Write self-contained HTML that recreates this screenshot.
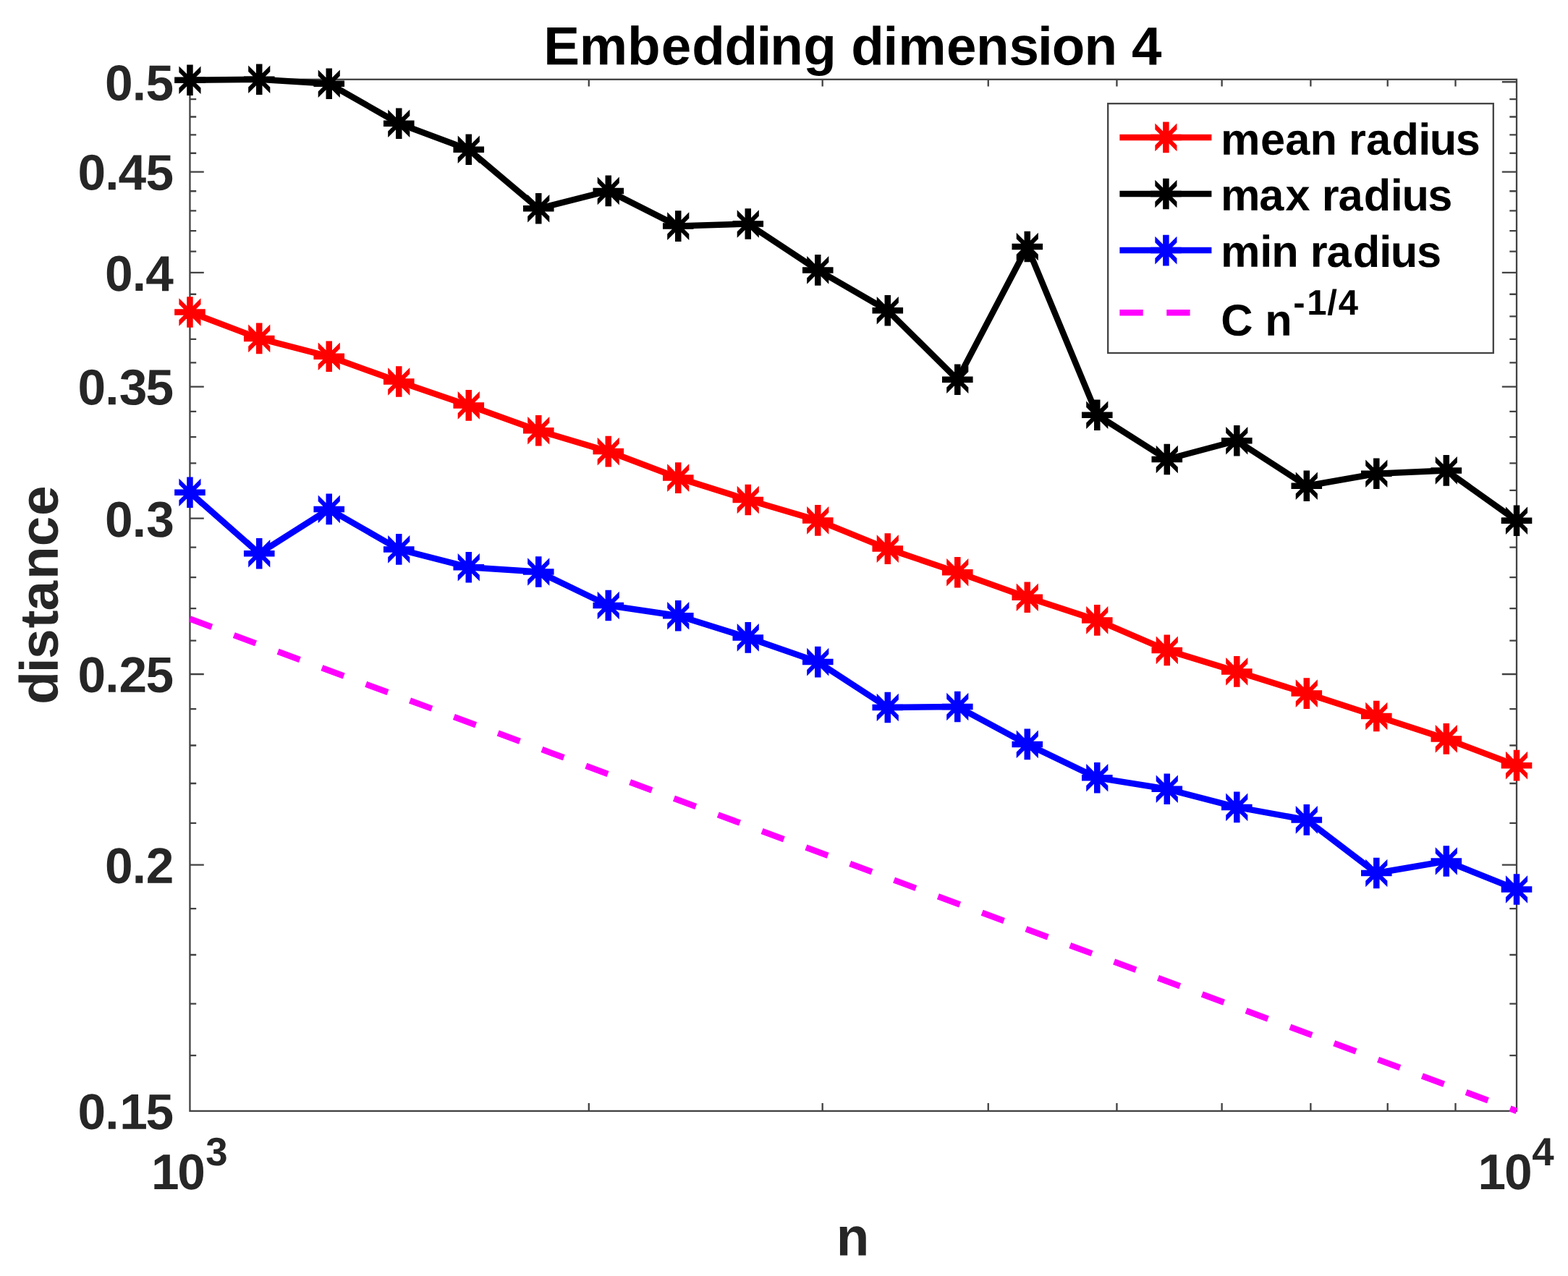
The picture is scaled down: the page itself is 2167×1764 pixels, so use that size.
<!DOCTYPE html>
<html lang="en">
<head>
<meta charset="utf-8">
<title>Embedding dimension 4</title>
<style>
html,body{margin:0;padding:0;background:#fff}
body{width:2167px;height:1764px;overflow:hidden}
svg{display:block}
text{font-family:"Liberation Sans", sans-serif;font-weight:700;white-space:pre;text-rendering:geometricPrecision}
</style>
</head>
<body>
<svg width="2167" height="1764" viewBox="0 0 2167 1764">
<rect width="2167" height="1764" fill="#fff"/>
<g stroke="#424242" stroke-width="2.3" fill="none">
<rect x="262.45" y="109.8" width="1833.55" height="1426.1"/>
<path d="M813.8 1535.9V1524.9M813.8 109.8V119.6M1136.68 1535.9V1524.9M1136.68 109.8V119.6M1365.76 1535.9V1524.9M1365.76 109.8V119.6M1543.45 1535.9V1524.9M1543.45 109.8V119.6M1688.63 1535.9V1524.9M1688.63 109.8V119.6M1811.38 1535.9V1524.9M1811.38 109.8V119.6M1917.71 1535.9V1524.9M1917.71 109.8V119.6M2011.5 1535.9V1524.9M2011.5 109.8V119.6M262.45 1459.14H271.2M2096 1459.14H2086.3M262.45 1387.53H271.2M2096 1387.53H2086.3M262.45 1320.01H271.2M2096 1320.01H2086.3M262.45 1256.15H271.2M2096 1256.15H2086.3M262.45 1195.57H281.8M2096 1195.57H2075.8M262.45 1137.94H271.2M2096 1137.94H2086.3M262.45 1082.99H271.2M2096 1082.99H2086.3M262.45 1030.48H271.2M2096 1030.48H2086.3M262.45 980.21H271.2M2096 980.21H2086.3M262.45 931.99H281.8M2096 931.99H2075.8M262.45 885.67H271.2M2096 885.67H2086.3M262.45 841.09H271.2M2096 841.09H2086.3M262.45 798.13H271.2M2096 798.13H2086.3M262.45 756.69H271.2M2096 756.69H2086.3M262.45 716.64H281.8M2096 716.64H2075.8M262.45 677.91H271.2M2096 677.91H2086.3M262.45 640.41H271.2M2096 640.41H2086.3M262.45 604.06H271.2M2096 604.06H2086.3M262.45 568.8H271.2M2096 568.8H2086.3M262.45 534.56H281.8M2096 534.56H2075.8M262.45 501.29H271.2M2096 501.29H2086.3M262.45 468.93H271.2M2096 468.93H2086.3M262.45 437.43H271.2M2096 437.43H2086.3M262.45 406.75H271.2M2096 406.75H2086.3M262.45 376.84H281.8M2096 376.84H2075.8M262.45 347.67H271.2M2096 347.67H2086.3M262.45 319.21H271.2M2096 319.21H2086.3M262.45 291.42H271.2M2096 291.42H2086.3M262.45 264.26H271.2M2096 264.26H2086.3M262.45 237.72H281.8M2096 237.72H2075.8M262.45 211.76H271.2M2096 211.76H2086.3M262.45 186.36H271.2M2096 186.36H2086.3M262.45 161.49H271.2M2096 161.49H2086.3M262.45 137.13H271.2M2096 137.13H2086.3M262.45 113.27H281.8M2096 113.27H2075.8"/>
</g>
<g fill="#262626" font-size="69.4" text-anchor="end">
<text transform="translate(240.1 1560.9) rotate(0.03)" dx="0 -1 0.9 -2.4">0.15</text>
<text transform="translate(240.45 1220.75) rotate(0.03)" dx="0 -0.95 -0.05">0.2</text>
<text transform="translate(240.1 956.82) rotate(0.03)" dx="0 -1 0.04 -1.54">0.25</text>
<text transform="translate(240.71 742) rotate(0.03)" dx="0 -0.95 0.21">0.3</text>
<text transform="translate(240.1 559.35) rotate(0.03)" dx="0 -1 0.3 -1.8">0.35</text>
<text transform="translate(239.91 402.15) rotate(0.03)" dx="0 -0.95 -0.59">0.4</text>
<text transform="translate(240.1 262.4) rotate(0.03)" dx="0 -1 -0.8 -0.7">0.45</text>
<text transform="translate(240.1 138.53) rotate(0.03)" dx="0 -0.95 -0.4">0.5</text>
</g>
<g fill="#262626" font-size="69.4">
<text transform="translate(208 1643.9) rotate(0.03)" dx="0.9 -2.3">10<tspan font-size="54.7" dy="-33" dx="0.55">3</tspan></text>
<text transform="translate(2041.5 1643.9) rotate(0.03)" dx="1 -2.2">10<tspan font-size="54.7" dy="-33" dx="-0.2">4</tspan></text>
</g>
<text transform="translate(1180.5 89.4) rotate(0.03)" x="-431.03" font-size="74.6" fill="#000" dx="1.8 -0.2 -0.2 1.1 1.2 -0.5 -1.6 -2 0.4 0 -0.3 -1.1 0 0.3 -0.5 0 -2 -1 -0.8 0 -0.85">Embedding dimension 4</text>
<text transform="translate(1178.6 1735.4) rotate(0.03)" font-size="74.6" text-anchor="middle" fill="#262626">n</text>
<text transform="translate(79.7 822) rotate(-89.97)" x="-151.32" font-size="74.6" fill="#262626" dx="-0.5 -2.1 -1.3 0.9 -0.8 2 0.2 0.6">distance</text>
<line x1="262.45" y1="855.56" x2="2096" y2="1535.9" stroke="#f0f" stroke-width="8.5" stroke-dasharray="32.3 32.57"/>
<polyline points="262.45,680.8 358.25,765.2 454.76,703.9 551.26,759.4 647.76,784.2 744.26,790.45 840.77,837 937.27,851.2 1033.77,881.4 1130.27,915.1 1226.78,978 1323.28,977 1419.78,1028.9 1516.28,1075.3 1612.79,1090.8 1709.29,1115.9 1805.79,1133.4 1902.29,1207 1998.8,1190.5 2096,1229.5" fill="none" stroke="#00f" stroke-width="8.5" stroke-linejoin="round"/>
<path d="M241.15 676.55h42.6v8.5h-42.6zM258.2 659.5h8.5v42.6h-8.5zM247.39 661.49L277.51 691.61L277.51 700.11L247.39 669.99zM247.39 691.61L277.51 661.49L277.51 669.99L247.39 700.11zM336.95 760.95h42.6v8.5h-42.6zM354 743.9h8.5v42.6h-8.5zM343.19 745.89L373.31 776.01L373.31 784.51L343.19 754.39zM343.19 776.01L373.31 745.89L373.31 754.39L343.19 784.51zM433.46 699.65h42.6v8.5h-42.6zM450.51 682.6h8.5v42.6h-8.5zM439.69 684.59L469.82 714.71L469.82 723.21L439.69 693.09zM439.69 714.71L469.82 684.59L469.82 693.09L439.69 723.21zM529.96 755.15h42.6v8.5h-42.6zM547.01 738.1h8.5v42.6h-8.5zM536.2 740.09L566.32 770.21L566.32 778.71L536.2 748.59zM536.2 770.21L566.32 740.09L566.32 748.59L536.2 778.71zM626.46 779.95h42.6v8.5h-42.6zM643.51 762.9h8.5v42.6h-8.5zM632.7 764.89L662.82 795.01L662.82 803.51L632.7 773.39zM632.7 795.01L662.82 764.89L662.82 773.39L632.7 803.51zM722.96 786.2h42.6v8.5h-42.6zM740.01 769.15h8.5v42.6h-8.5zM729.2 771.14L759.32 801.26L759.32 809.76L729.2 779.64zM729.2 801.26L759.32 771.14L759.32 779.64L729.2 809.76zM819.47 832.75h42.6v8.5h-42.6zM836.52 815.7h8.5v42.6h-8.5zM825.7 817.69L855.83 847.81L855.83 856.31L825.7 826.19zM825.7 847.81L855.83 817.69L855.83 826.19L825.7 856.31zM915.97 846.95h42.6v8.5h-42.6zM933.02 829.9h8.5v42.6h-8.5zM922.21 831.89L952.33 862.01L952.33 870.51L922.21 840.39zM922.21 862.01L952.33 831.89L952.33 840.39L922.21 870.51zM1012.47 877.15h42.6v8.5h-42.6zM1029.52 860.1h8.5v42.6h-8.5zM1018.71 862.09L1048.83 892.21L1048.83 900.71L1018.71 870.59zM1018.71 892.21L1048.83 862.09L1048.83 870.59L1018.71 900.71zM1108.97 910.85h42.6v8.5h-42.6zM1126.02 893.8h8.5v42.6h-8.5zM1115.21 895.79L1145.34 925.91L1145.34 934.41L1115.21 904.29zM1115.21 925.91L1145.34 895.79L1145.34 904.29L1115.21 934.41zM1205.48 973.75h42.6v8.5h-42.6zM1222.53 956.7h8.5v42.6h-8.5zM1211.71 958.69L1241.84 988.81L1241.84 997.31L1211.71 967.19zM1211.71 988.81L1241.84 958.69L1241.84 967.19L1211.71 997.31zM1301.98 972.75h42.6v8.5h-42.6zM1319.03 955.7h8.5v42.6h-8.5zM1308.22 957.69L1338.34 987.81L1338.34 996.31L1308.22 966.19zM1308.22 987.81L1338.34 957.69L1338.34 966.19L1308.22 996.31zM1398.48 1024.65h42.6v8.5h-42.6zM1415.53 1007.6h8.5v42.6h-8.5zM1404.72 1009.59L1434.84 1039.71L1434.84 1048.21L1404.72 1018.09zM1404.72 1039.71L1434.84 1009.59L1434.84 1018.09L1404.72 1048.21zM1494.98 1071.05h42.6v8.5h-42.6zM1512.03 1054h8.5v42.6h-8.5zM1501.22 1055.99L1531.35 1086.11L1531.35 1094.61L1501.22 1064.49zM1501.22 1086.11L1531.35 1055.99L1531.35 1064.49L1501.22 1094.61zM1591.49 1086.55h42.6v8.5h-42.6zM1608.54 1069.5h8.5v42.6h-8.5zM1597.73 1071.49L1627.85 1101.61L1627.85 1110.11L1597.73 1079.99zM1597.73 1101.61L1627.85 1071.49L1627.85 1079.99L1597.73 1110.11zM1687.99 1111.65h42.6v8.5h-42.6zM1705.04 1094.6h8.5v42.6h-8.5zM1694.23 1096.59L1724.35 1126.71L1724.35 1135.21L1694.23 1105.09zM1694.23 1126.71L1724.35 1096.59L1724.35 1105.09L1694.23 1135.21zM1784.49 1129.15h42.6v8.5h-42.6zM1801.54 1112.1h8.5v42.6h-8.5zM1790.73 1114.09L1820.85 1144.21L1820.85 1152.71L1790.73 1122.59zM1790.73 1144.21L1820.85 1114.09L1820.85 1122.59L1790.73 1152.71zM1880.99 1202.75h42.6v8.5h-42.6zM1898.04 1185.7h8.5v42.6h-8.5zM1887.23 1187.69L1917.36 1217.81L1917.36 1226.31L1887.23 1196.19zM1887.23 1217.81L1917.36 1187.69L1917.36 1196.19L1887.23 1226.31zM1977.5 1186.25h42.6v8.5h-42.6zM1994.55 1169.2h8.5v42.6h-8.5zM1983.74 1171.19L2013.86 1201.31L2013.86 1209.81L1983.74 1179.69zM1983.74 1201.31L2013.86 1171.19L2013.86 1179.69L1983.74 1209.81zM2074.7 1225.25h42.6v8.5h-42.6zM2091.75 1208.2h8.5v42.6h-8.5zM2080.94 1210.19L2111.06 1240.31L2111.06 1248.81L2080.94 1218.69zM2080.94 1240.31L2111.06 1210.19L2111.06 1218.69L2080.94 1248.81z" fill="#00f"/>
<polyline points="262.45,110.7 358.25,109.7 454.76,115.75 551.26,170.7 647.76,206.7 744.26,288.3 840.77,263.9 937.27,312.6 1033.77,309.5 1130.27,373.4 1226.78,429.3 1323.28,524.8 1419.78,341.05 1516.28,573.7 1612.79,635 1709.29,609.25 1805.79,671.7 1902.29,654.7 1998.8,650.4 2096,719.8" fill="none" stroke="#000" stroke-width="8.5" stroke-linejoin="round"/>
<path d="M241.15 106.45h42.6v8.5h-42.6zM258.2 89.4h8.5v42.6h-8.5zM247.39 91.39L277.51 121.51L277.51 130.01L247.39 99.89zM247.39 121.51L277.51 91.39L277.51 99.89L247.39 130.01zM336.95 105.45h42.6v8.5h-42.6zM354 88.4h8.5v42.6h-8.5zM343.19 90.39L373.31 120.51L373.31 129.01L343.19 98.89zM343.19 120.51L373.31 90.39L373.31 98.89L343.19 129.01zM433.46 111.5h42.6v8.5h-42.6zM450.51 94.45h8.5v42.6h-8.5zM439.69 96.44L469.82 126.56L469.82 135.06L439.69 104.94zM439.69 126.56L469.82 96.44L469.82 104.94L439.69 135.06zM529.96 166.45h42.6v8.5h-42.6zM547.01 149.4h8.5v42.6h-8.5zM536.2 151.39L566.32 181.51L566.32 190.01L536.2 159.89zM536.2 181.51L566.32 151.39L566.32 159.89L536.2 190.01zM626.46 202.45h42.6v8.5h-42.6zM643.51 185.4h8.5v42.6h-8.5zM632.7 187.39L662.82 217.51L662.82 226.01L632.7 195.89zM632.7 217.51L662.82 187.39L662.82 195.89L632.7 226.01zM722.96 284.05h42.6v8.5h-42.6zM740.01 267h8.5v42.6h-8.5zM729.2 268.99L759.32 299.11L759.32 307.61L729.2 277.49zM729.2 299.11L759.32 268.99L759.32 277.49L729.2 307.61zM819.47 259.65h42.6v8.5h-42.6zM836.52 242.6h8.5v42.6h-8.5zM825.7 244.59L855.83 274.71L855.83 283.21L825.7 253.09zM825.7 274.71L855.83 244.59L855.83 253.09L825.7 283.21zM915.97 308.35h42.6v8.5h-42.6zM933.02 291.3h8.5v42.6h-8.5zM922.21 293.29L952.33 323.41L952.33 331.91L922.21 301.79zM922.21 323.41L952.33 293.29L952.33 301.79L922.21 331.91zM1012.47 305.25h42.6v8.5h-42.6zM1029.52 288.2h8.5v42.6h-8.5zM1018.71 290.19L1048.83 320.31L1048.83 328.81L1018.71 298.69zM1018.71 320.31L1048.83 290.19L1048.83 298.69L1018.71 328.81zM1108.97 369.15h42.6v8.5h-42.6zM1126.02 352.1h8.5v42.6h-8.5zM1115.21 354.09L1145.34 384.21L1145.34 392.71L1115.21 362.59zM1115.21 384.21L1145.34 354.09L1145.34 362.59L1115.21 392.71zM1205.48 425.05h42.6v8.5h-42.6zM1222.53 408h8.5v42.6h-8.5zM1211.71 409.99L1241.84 440.11L1241.84 448.61L1211.71 418.49zM1211.71 440.11L1241.84 409.99L1241.84 418.49L1211.71 448.61zM1301.98 520.55h42.6v8.5h-42.6zM1319.03 503.5h8.5v42.6h-8.5zM1308.22 505.49L1338.34 535.61L1338.34 544.11L1308.22 513.99zM1308.22 535.61L1338.34 505.49L1338.34 513.99L1308.22 544.11zM1398.48 336.8h42.6v8.5h-42.6zM1415.53 319.75h8.5v42.6h-8.5zM1404.72 321.74L1434.84 351.86L1434.84 360.36L1404.72 330.24zM1404.72 351.86L1434.84 321.74L1434.84 330.24L1404.72 360.36zM1494.98 569.45h42.6v8.5h-42.6zM1512.03 552.4h8.5v42.6h-8.5zM1501.22 554.39L1531.35 584.51L1531.35 593.01L1501.22 562.89zM1501.22 584.51L1531.35 554.39L1531.35 562.89L1501.22 593.01zM1591.49 630.75h42.6v8.5h-42.6zM1608.54 613.7h8.5v42.6h-8.5zM1597.73 615.69L1627.85 645.81L1627.85 654.31L1597.73 624.19zM1597.73 645.81L1627.85 615.69L1627.85 624.19L1597.73 654.31zM1687.99 605h42.6v8.5h-42.6zM1705.04 587.95h8.5v42.6h-8.5zM1694.23 589.94L1724.35 620.06L1724.35 628.56L1694.23 598.44zM1694.23 620.06L1724.35 589.94L1724.35 598.44L1694.23 628.56zM1784.49 667.45h42.6v8.5h-42.6zM1801.54 650.4h8.5v42.6h-8.5zM1790.73 652.39L1820.85 682.51L1820.85 691.01L1790.73 660.89zM1790.73 682.51L1820.85 652.39L1820.85 660.89L1790.73 691.01zM1880.99 650.45h42.6v8.5h-42.6zM1898.04 633.4h8.5v42.6h-8.5zM1887.23 635.39L1917.36 665.51L1917.36 674.01L1887.23 643.89zM1887.23 665.51L1917.36 635.39L1917.36 643.89L1887.23 674.01zM1977.5 646.15h42.6v8.5h-42.6zM1994.55 629.1h8.5v42.6h-8.5zM1983.74 631.09L2013.86 661.21L2013.86 669.71L1983.74 639.59zM1983.74 661.21L2013.86 631.09L2013.86 639.59L1983.74 669.71zM2074.7 715.55h42.6v8.5h-42.6zM2091.75 698.5h8.5v42.6h-8.5zM2080.94 700.49L2111.06 730.61L2111.06 739.11L2080.94 708.99zM2080.94 730.61L2111.06 700.49L2111.06 708.99L2080.94 739.11z" fill="#000"/>
<polyline points="262.45,431.5 358.25,467.9 454.76,492.8 551.26,527.5 647.76,560.4 744.26,595.3 840.77,624.1 937.27,660.6 1033.77,691 1130.27,719.4 1226.78,758.6 1323.28,791.2 1419.78,825.7 1516.28,857.4 1612.79,898.9 1709.29,928.4 1805.79,958.6 1902.29,990 1998.8,1021.4 2096,1058.15" fill="none" stroke="#f00" stroke-width="8.5" stroke-linejoin="round"/>
<path d="M241.15 427.25h42.6v8.5h-42.6zM258.2 410.2h8.5v42.6h-8.5zM247.39 412.19L277.51 442.31L277.51 450.81L247.39 420.69zM247.39 442.31L277.51 412.19L277.51 420.69L247.39 450.81zM336.95 463.65h42.6v8.5h-42.6zM354 446.6h8.5v42.6h-8.5zM343.19 448.59L373.31 478.71L373.31 487.21L343.19 457.09zM343.19 478.71L373.31 448.59L373.31 457.09L343.19 487.21zM433.46 488.55h42.6v8.5h-42.6zM450.51 471.5h8.5v42.6h-8.5zM439.69 473.49L469.82 503.61L469.82 512.11L439.69 481.99zM439.69 503.61L469.82 473.49L469.82 481.99L439.69 512.11zM529.96 523.25h42.6v8.5h-42.6zM547.01 506.2h8.5v42.6h-8.5zM536.2 508.19L566.32 538.31L566.32 546.81L536.2 516.69zM536.2 538.31L566.32 508.19L566.32 516.69L536.2 546.81zM626.46 556.15h42.6v8.5h-42.6zM643.51 539.1h8.5v42.6h-8.5zM632.7 541.09L662.82 571.21L662.82 579.71L632.7 549.59zM632.7 571.21L662.82 541.09L662.82 549.59L632.7 579.71zM722.96 591.05h42.6v8.5h-42.6zM740.01 574h8.5v42.6h-8.5zM729.2 575.99L759.32 606.11L759.32 614.61L729.2 584.49zM729.2 606.11L759.32 575.99L759.32 584.49L729.2 614.61zM819.47 619.85h42.6v8.5h-42.6zM836.52 602.8h8.5v42.6h-8.5zM825.7 604.79L855.83 634.91L855.83 643.41L825.7 613.29zM825.7 634.91L855.83 604.79L855.83 613.29L825.7 643.41zM915.97 656.35h42.6v8.5h-42.6zM933.02 639.3h8.5v42.6h-8.5zM922.21 641.29L952.33 671.41L952.33 679.91L922.21 649.79zM922.21 671.41L952.33 641.29L952.33 649.79L922.21 679.91zM1012.47 686.75h42.6v8.5h-42.6zM1029.52 669.7h8.5v42.6h-8.5zM1018.71 671.69L1048.83 701.81L1048.83 710.31L1018.71 680.19zM1018.71 701.81L1048.83 671.69L1048.83 680.19L1018.71 710.31zM1108.97 715.15h42.6v8.5h-42.6zM1126.02 698.1h8.5v42.6h-8.5zM1115.21 700.09L1145.34 730.21L1145.34 738.71L1115.21 708.59zM1115.21 730.21L1145.34 700.09L1145.34 708.59L1115.21 738.71zM1205.48 754.35h42.6v8.5h-42.6zM1222.53 737.3h8.5v42.6h-8.5zM1211.71 739.29L1241.84 769.41L1241.84 777.91L1211.71 747.79zM1211.71 769.41L1241.84 739.29L1241.84 747.79L1211.71 777.91zM1301.98 786.95h42.6v8.5h-42.6zM1319.03 769.9h8.5v42.6h-8.5zM1308.22 771.89L1338.34 802.01L1338.34 810.51L1308.22 780.39zM1308.22 802.01L1338.34 771.89L1338.34 780.39L1308.22 810.51zM1398.48 821.45h42.6v8.5h-42.6zM1415.53 804.4h8.5v42.6h-8.5zM1404.72 806.39L1434.84 836.51L1434.84 845.01L1404.72 814.89zM1404.72 836.51L1434.84 806.39L1434.84 814.89L1404.72 845.01zM1494.98 853.15h42.6v8.5h-42.6zM1512.03 836.1h8.5v42.6h-8.5zM1501.22 838.09L1531.35 868.21L1531.35 876.71L1501.22 846.59zM1501.22 868.21L1531.35 838.09L1531.35 846.59L1501.22 876.71zM1591.49 894.65h42.6v8.5h-42.6zM1608.54 877.6h8.5v42.6h-8.5zM1597.73 879.59L1627.85 909.71L1627.85 918.21L1597.73 888.09zM1597.73 909.71L1627.85 879.59L1627.85 888.09L1597.73 918.21zM1687.99 924.15h42.6v8.5h-42.6zM1705.04 907.1h8.5v42.6h-8.5zM1694.23 909.09L1724.35 939.21L1724.35 947.71L1694.23 917.59zM1694.23 939.21L1724.35 909.09L1724.35 917.59L1694.23 947.71zM1784.49 954.35h42.6v8.5h-42.6zM1801.54 937.3h8.5v42.6h-8.5zM1790.73 939.29L1820.85 969.41L1820.85 977.91L1790.73 947.79zM1790.73 969.41L1820.85 939.29L1820.85 947.79L1790.73 977.91zM1880.99 985.75h42.6v8.5h-42.6zM1898.04 968.7h8.5v42.6h-8.5zM1887.23 970.69L1917.36 1000.81L1917.36 1009.31L1887.23 979.19zM1887.23 1000.81L1917.36 970.69L1917.36 979.19L1887.23 1009.31zM1977.5 1017.15h42.6v8.5h-42.6zM1994.55 1000.1h8.5v42.6h-8.5zM1983.74 1002.09L2013.86 1032.21L2013.86 1040.71L1983.74 1010.59zM1983.74 1032.21L2013.86 1002.09L2013.86 1010.59L1983.74 1040.71zM2074.7 1053.9h42.6v8.5h-42.6zM2091.75 1036.85h8.5v42.6h-8.5zM2080.94 1038.84L2111.06 1068.96L2111.06 1077.46L2080.94 1047.34zM2080.94 1068.96L2111.06 1038.84L2111.06 1047.34L2080.94 1077.46z" fill="#f00"/>
<rect x="1531.2" y="143.2" width="532.6" height="344.8" fill="#fff" stroke="#424242" stroke-width="2.3"/>
<line x1="1547.4" y1="189.9" x2="1674.4" y2="189.9" stroke="#f00" stroke-width="8.5"/>
<path d="M1590.1 185.65h42.6v8.5h-42.6zM1607.15 168.6h8.5v42.6h-8.5zM1596.34 170.59L1626.46 200.71L1626.46 209.21L1596.34 179.09zM1596.34 200.71L1626.46 170.59L1626.46 179.09L1596.34 209.21z" fill="#f00"/>
<line x1="1547.4" y1="268" x2="1674.4" y2="268" stroke="#000" stroke-width="8.5"/>
<path d="M1590.1 263.75h42.6v8.5h-42.6zM1607.15 246.7h8.5v42.6h-8.5zM1596.34 248.69L1626.46 278.81L1626.46 287.31L1596.34 257.19zM1596.34 278.81L1626.46 248.69L1626.46 257.19L1596.34 287.31z" fill="#000"/>
<line x1="1547.4" y1="346.1" x2="1674.4" y2="346.1" stroke="#00f" stroke-width="8.5"/>
<path d="M1590.1 341.85h42.6v8.5h-42.6zM1607.15 324.8h8.5v42.6h-8.5zM1596.34 326.79L1626.46 356.91L1626.46 365.41L1596.34 335.29zM1596.34 356.91L1626.46 326.79L1626.46 335.29L1596.34 365.41z" fill="#00f"/>
<line x1="1547.4" y1="432.3" x2="1674.4" y2="432.3" stroke="#f0f" stroke-width="8.5" stroke-dasharray="32.3 32.57"/>
<g fill="#000" font-size="61.3">
<text transform="translate(1866 213.8) rotate(0.03)" x="-180" dx="0.9 0.6 0.1 0.2 -0.5 -0.4 0 1.4 -0.7 -1.4 -1.6">mean radius</text>
<text transform="translate(1866 290.9) rotate(0.03)" x="-180" dx="0.9 -1.2 2.3 -0.6 -0.5 -0.9 1.1 -0.4 -1.4 -1.7">max radius</text>
<text transform="translate(1866 368.9) rotate(0.03)" x="-180" dx="0.9 -0.2 -1.05 -0.55 -0.5 -1.1 2.15 -0.85 -1.4 -1.2">min radius</text>
<text transform="translate(1686 463.8) rotate(0.03)" dx="1.2 -0.1 -0.1">C n<tspan font-size="49" dy="-28.9" dx="1.4 2.8 0.7 1.9">-1/4</tspan></text>
</g>
</svg>
</body>
</html>
